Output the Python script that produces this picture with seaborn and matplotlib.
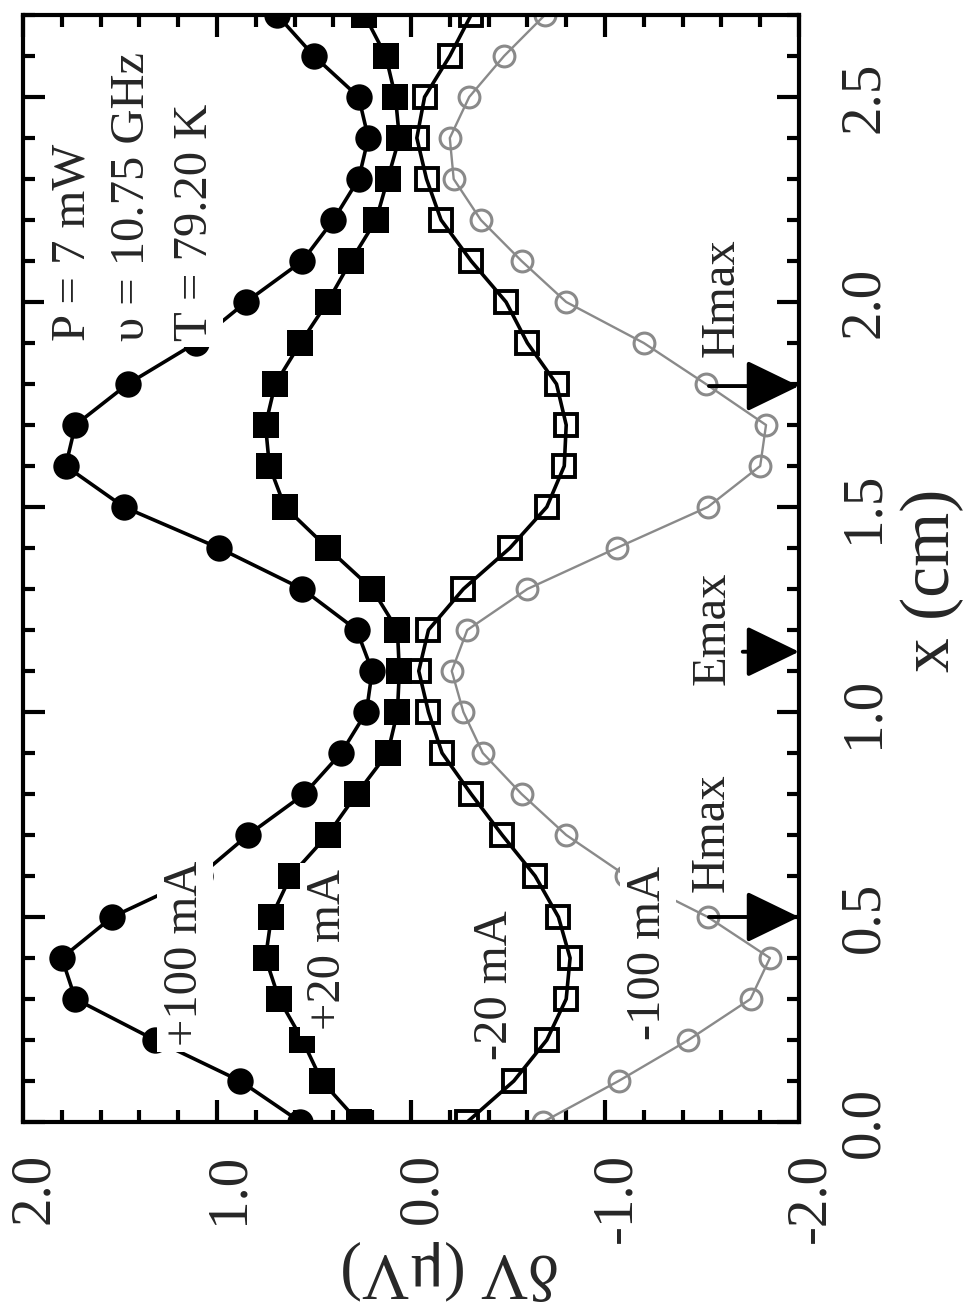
import matplotlib
matplotlib.use("Agg")
import matplotlib.pyplot as plt
import seaborn as sns
import pandas as pd
from matplotlib.ticker import MultipleLocator
from matplotlib.transforms import ScaledTranslation

# ---------------- data ----------------
X_CM = [0.0, 0.1, 0.2, 0.3, 0.4, 0.5, 0.6, 0.7, 0.8, 0.9,
        1.0, 1.1, 1.2, 1.3, 1.4, 1.5, 1.6, 1.7, 1.8, 1.9,
        2.0, 2.1, 2.2, 2.3, 2.4, 2.5, 2.6, 2.7]

DV_P100 = [0.57, 0.88, 1.32, 1.73, 1.80, 1.54, 1.09, 0.84, 0.55, 0.36,
           0.23, 0.20, 0.28, 0.56, 0.99, 1.48, 1.78, 1.73, 1.46, 1.11,
           0.85, 0.56, 0.40, 0.27, 0.22, 0.27, 0.50, 0.69]

DV_P20 = [0.27, 0.46, 0.56, 0.68, 0.75, 0.72, 0.62, 0.43, 0.28, 0.12,
          0.07, 0.06, 0.07, 0.20, 0.43, 0.65, 0.73, 0.75, 0.70, 0.57,
          0.43, 0.31, 0.18, 0.12, 0.06, 0.08, 0.13, 0.24]

DV_M20 = [-0.29, -0.53, -0.70, -0.80, -0.82, -0.76, -0.64, -0.47, -0.31, -0.16,
          -0.09, -0.04, -0.09, -0.27, -0.51, -0.70, -0.79, -0.80, -0.75, -0.60,
          -0.49, -0.31, -0.155, -0.08, -0.03, -0.07, -0.20, -0.31]

DV_M100 = [-0.68, -1.07, -1.43, -1.75, -1.85, -1.53, -1.11, -0.80, -0.57, -0.37,
           -0.27, -0.21, -0.29, -0.60, -1.06, -1.53, -1.80, -1.83, -1.52, -1.20,
           -0.80, -0.57, -0.36, -0.22, -0.20, -0.30, -0.48, -0.69]

DV_TICKS = [2.0, 1.0, 0.0, -1.0, -2.0]
DV_TICK_LABELS = ["2.0", "1.0", "0.0", "-1.0", "-2.0"]
X_TICKS = [0.0, 0.5, 1.0, 1.5, 2.0, 2.5]
X_TICK_LABELS = ["0.0", "0.5", "1.0", "1.5", "2.0", "2.5"]

CURRENT_LABELS = ["+100 mA", "+20 mA", "-20 mA", "-100 mA"]
CURRENT_LABEL_POS = [(1.165, 0.412), (0.428, 0.42), (-0.433, 0.334), (-1.222, 0.412)]

ARROW_X = [0.50, 1.147, 1.795]
ARROW_TAIL_DV = [-1.536, -1.71, -1.536]
ARROW_LABELS = ["Hmax", "Emax", "Hmax"]
ARROW_LABEL_POS = [(-1.552, 0.707), (-1.552, 1.205), (-1.603, 2.01)]

CONDITIONS = ["P = 7 mW", "\u03c5 = 10.75 GHz", "T = 79.20 K"]
CONDITION_DV = [1.747, 1.44, 1.113]
CONDITION_X0 = 1.905

# ---------------- style ----------------
sns.set_style("ticks")
plt.rcParams["font.family"] = ["Liberation Serif", "DejaVu Serif"]
plt.rcParams["axes.linewidth"] = 3

fig = plt.figure(figsize=(9.64, 13.04), dpi=100)
ax = fig.add_axes([23 / 964, 182 / 1304, 776 / 964, 1107 / 1304])

df = pd.DataFrame({"x": X_CM, "p100": DV_P100, "p20": DV_P20,
                   "m20": DV_M20, "m100": DV_M100})

common = dict(data=df, y="x", ax=ax, sort=False, estimator=None, orient="y",
              legend=False)
GRAY = "#8a8a8a"

sns.lineplot(x="m100", color=GRAY, lw=1.7, marker="o", markersize=15,
             markerfacecolor="none", markeredgecolor=GRAY, markeredgewidth=2.2,
             zorder=2, **common)
sns.lineplot(x="m20", color="black", lw=2.6, marker="s", markersize=16,
             markerfacecolor="none", markeredgecolor="black", markeredgewidth=2.8,
             zorder=3, **common)
sns.lineplot(x="p20", color="black", lw=2.6, marker="s", markersize=18.5,
             markerfacecolor="black", markeredgecolor="black", markeredgewidth=0,
             zorder=3, **common)
sns.lineplot(x="p100", color="black", lw=2.6, marker="o", markersize=19,
             markerfacecolor="black", markeredgecolor="black", markeredgewidth=0,
             zorder=3, **common)

# ---------------- axes ----------------
ax.set_xlim(2.0, -2.0)
ax.set_ylim(0.0, 2.7)
ax.set_xticks(DV_TICKS)
ax.set_xticklabels(DV_TICK_LABELS)
ax.xaxis.set_minor_locator(MultipleLocator(0.2))
ax.set_yticks(X_TICKS)
ax.set_yticklabels(X_TICK_LABELS)
ax.yaxis.set_minor_locator(MultipleLocator(0.1))

ax.tick_params(which="both", direction="in", top=True, bottom=True,
               left=True, right=True, width=3, color="black")
ax.tick_params(which="major", length=16)
ax.tick_params(which="minor", length=8.5)
ax.tick_params(axis="x", labelsize=41, pad=22, labelrotation=90)
ax.tick_params(axis="y", labelleft=False, labelright=True, labelsize=41,
               pad=28, labelrotation=90)
shift = ScaledTranslation(0.11, 0, fig.dpi_scale_trans)
for t in ax.xaxis.get_major_ticks():
    t.label1.set_ha("center")
    t.label1.set_va("top")
    t.label1.set_transform(t.label1.get_transform() + shift)
for t in ax.yaxis.get_major_ticks():
    t.label2.set_ha("left")
    t.label2.set_va("center")

for s in ax.spines.values():
    s.set_linewidth(3)
    s.set_color("black")

ax.set_xlabel("\u03b4V (\u03bcV)", fontsize=47, rotation=180, ha="center", va="center")
ax.xaxis.set_label_coords(0.55, -0.134)
ax.yaxis.set_label_position("right")
ax.set_ylabel("x (cm)", fontsize=50, rotation=90, ha="center", va="center")
ax.yaxis.set_label_coords(1.172, 0.4896)

# ---------------- annotations ----------------
box = dict(boxstyle="square,pad=0.12", fc="white", ec="none")
for lab, (dv, xx) in zip(CURRENT_LABELS, CURRENT_LABEL_POS):
    ax.text(dv, xx, lab, rotation=90, ha="center", va="center", fontsize=35,
            bbox=box, zorder=6)

for lab, dv in zip(CONDITIONS, CONDITION_DV):
    ax.text(dv, CONDITION_X0, lab, rotation=90, rotation_mode="anchor",
            ha="left", va="center", fontsize=35, bbox=box, zorder=6)

for xa, tail in zip(ARROW_X, ARROW_TAIL_DV):
    ax.annotate("", xy=(-2.0, xa), xytext=(tail, xa),
                arrowprops=dict(arrowstyle="-|>,head_length=33,head_width=16",
                                mutation_scale=1, lw=2.8, color="black",
                                shrinkA=0, shrinkB=0), zorder=6)

for lab, (dv, xx) in zip(ARROW_LABELS, ARROW_LABEL_POS):
    ax.text(dv, xx, lab, rotation=90, ha="center", va="center", fontsize=35,
            zorder=6)

fig.savefig("out.png", dpi=100, facecolor="white")
